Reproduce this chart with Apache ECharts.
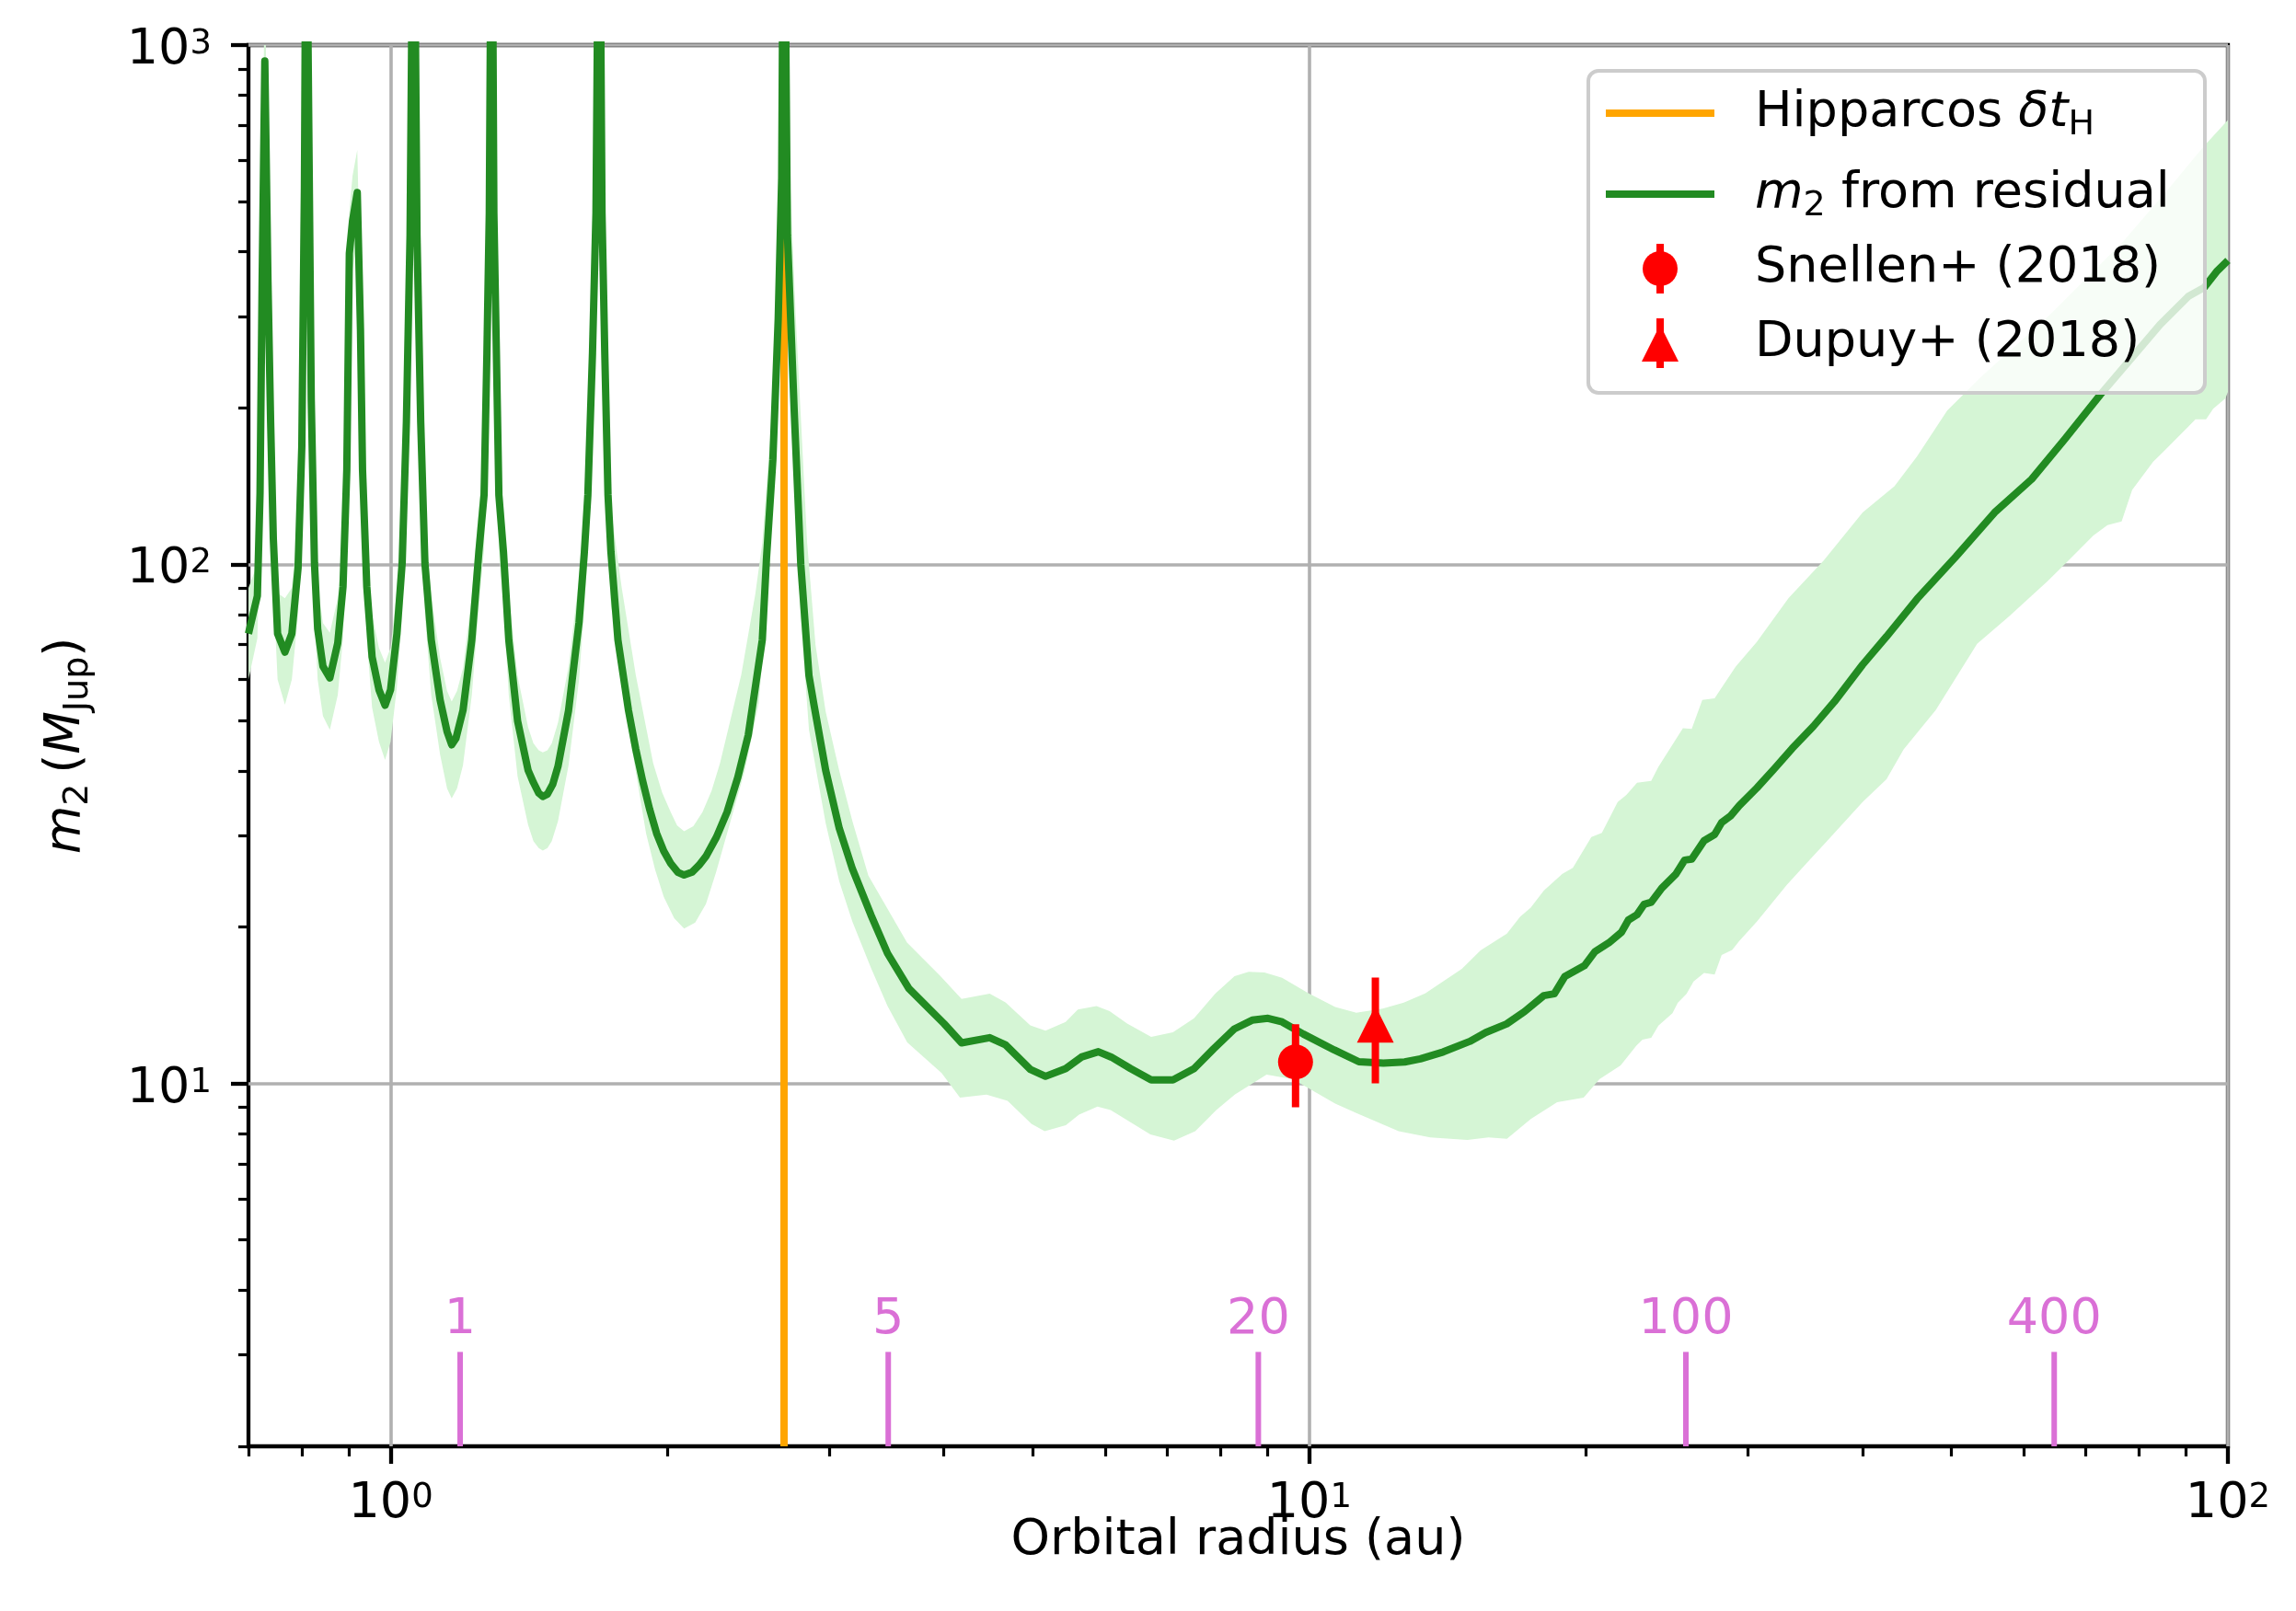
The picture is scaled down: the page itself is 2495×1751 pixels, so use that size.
<!DOCTYPE html>
<html>
<head>
<meta charset="utf-8">
<script src="https://cdn.jsdelivr.net/npm/echarts@6/dist/echarts.min.js"></script>
<style>html,body{margin:0;padding:0;background:#fff}#chart{width:2495px;height:1751px}</style>
</head>
<body>
<div id="chart"></div>
<script>
const FONT = 'DejaVu Sans';

// Companion mass (M_Jup) needed to explain the residual, against orbital radius (au)
const m2Curve = [[0.700,73.5],[0.7158,86.9],[0.7206,137],[0.7244,350],[0.7293,932],[0.7351,350],[0.7400,188],[0.7450,112],[0.7530,73.5],[0.7670,67.7],[0.7804,73.5],[0.7927,98.4],[0.8002,169],[0.8054,531],[0.8090,2500],[0.8193,208],[0.8259,100.5],[0.8326,75.1],[0.8437,63.6],[0.8584,60.4],[0.8756,70.5],[0.8872,90.5],[0.8957,152],[0.9014,397],[0.9087,459],[0.9195,520],[0.9269,284],[0.9317,152],[0.9417,90.5],[0.9543,66.3],[0.9709,57.3],[0.9858,53.5],[0.9995,57.3],[1.0156,73.5],[1.029,100.5],[1.040,188],[1.0496,431],[1.059,3000],[1.068,431],[1.078,188],[1.0894,100.5],[1.1069,71.5],[1.1316,54.8],[1.1516,47.6],[1.165,44.9],[1.1776,46.2],[1.1881,49.2],[1.1985,52.3],[1.2253,71.5],[1.2472,105.6],[1.2636,136],[1.2726,255],[1.2802,475],[1.2882,3000],[1.295,475],[1.3032,255],[1.3113,136],[1.3265,105.6],[1.3443,71.5],[1.3743,49.9],[1.411,40.1],[1.430,37.98],[1.449,36.25],[1.464,35.7],[1.481,36.08],[1.501,37.7],[1.5208,40.8],[1.5616,52.3],[1.6032,77.3],[1.6247,105.6],[1.639,136],[1.6581,255],[1.6727,475],[1.6866,3000],[1.6982,475],[1.710,255],[1.7239,136],[1.7366,105.6],[1.7673,71.5],[1.8147,52.3],[1.848,44.07],[1.880,38.3],[1.913,33.8],[1.9475,30.3],[1.9824,28.03],[2.0174,26.53],[2.0535,25.51],[2.0863,25.2],[2.1275,25.51],[2.1656,26.32],[2.2036,27.37],[2.2627,29.83],[2.3232,33.3],[2.387,38.88],[2.4502,46.9],[2.5379,71.5],[2.565,103],[2.6061,159],[2.6412,297],[2.6644,555],[2.6785,3000],[2.703,431],[2.749,198],[2.795,100],[2.853,61],[2.888,53.8],[2.975,40.1],[3.078,31],[3.181,25.9],[3.3327,21.1],[3.474,17.8],[3.6644,15.24],[4.0016,13.04],[4.1823,11.97],[4.4879,12.25],[4.6694,11.87],[4.9693,10.64],[5.1618,10.32],[5.4288,10.68],[5.6481,11.24],[5.8924,11.51],[6.0868,11.24],[6.3903,10.68],[6.7275,10.16],[7.1044,10.16],[7.4906,10.68],[7.864,11.65],[8.291,12.74],[8.6652,13.24],[9.0157,13.35],[9.3389,13.14],[9.8492,12.45],[10.644,11.6],[11.323,11.01],[12.04,10.94],[12.70,11.0],[13.21,11.15],[13.99,11.5],[14.95,12.05],[15.56,12.53],[16.40,13.02],[17.15,13.75],[18.00,14.76],[18.48,14.88],[18.98,16.08],[19.93,16.86],[20.46,17.94],[21.19,18.66],[21.86,19.54],[22.25,20.64],[22.74,21.14],[23.15,22.14],[23.56,22.34],[24.19,23.77],[25.06,25.29],[25.62,26.92],[26.08,27.04],[26.9,29.35],[27.62,30.17],[28.11,31.81],[28.73,32.72],[29.38,34.29],[30.70,37.07],[32.09,40.4],[33.54,44.16],[35.37,48.72],[37.29,54.35],[40.02,64.04],[42.49,72.54],[45.88,85.77],[50.56,103.4],[55.72,125.8],[61.14,145.8],[66.48,174.4],[72.63,212.1],[77.98,245.9],[84.39,289.7],[90.59,328.3],[94.26,341.4],[97.21,366.2],[100,384.7]];

// Lower edge of the uncertainty band
const bandLower = [[0.700,60],[0.7158,72],[0.7206,110],[0.7244,280],[0.7293,700],[0.7351,280],[0.7400,150],[0.7450,90],[0.7530,60],[0.7670,53.6],[0.7804,60],[0.7927,80],[0.8002,135],[0.8054,420],[0.8090,2000],[0.8193,165],[0.8259,80],[0.8326,60],[0.8437,51],[0.8584,48],[0.8756,56],[0.8872,72],[0.8957,122],[0.9014,320],[0.9087,370],[0.9195,420],[0.9269,225],[0.9317,120],[0.9417,72],[0.9543,53],[0.9709,45.5],[0.9858,42],[0.9995,45.5],[1.0156,58],[1.029,80],[1.040,150],[1.0496,345],[1.059,2000],[1.068,345],[1.078,150],[1.0894,80],[1.1069,56],[1.1316,43],[1.1516,37],[1.165,35.4],[1.1807,37],[1.1985,41],[1.2253,56],[1.2472,83],[1.2636,107],[1.2726,200],[1.2802,375],[1.2882,2000],[1.295,375],[1.3032,200],[1.3113,107],[1.3265,83],[1.3443,56],[1.3743,39],[1.411,31.5],[1.430,29.3],[1.449,28.4],[1.464,28.1],[1.481,28.4],[1.4972,29.3],[1.5208,32],[1.5616,41],[1.6032,60],[1.6247,83],[1.639,107],[1.6581,200],[1.6727,375],[1.6866,2000],[1.6982,375],[1.710,200],[1.7239,107],[1.7366,83],[1.752,77.3],[1.8147,48.4],[1.8967,30.3],[1.94,25.8],[1.9824,22.88],[2.035,20.8],[2.0863,19.87],[2.145,20.4],[2.2036,22.17],[2.26,25.5],[2.3232,30.3],[2.4286,40],[2.5156,54],[2.5605,80],[2.6061,135],[2.6412,250],[2.6644,470],[2.6785,2000],[2.70,340],[2.745,160],[2.795,79],[2.853,48],[2.888,42.5],[2.975,31.7],[3.078,24.5],[3.181,20.5],[3.3327,16.7],[3.474,14.1],[3.650,12.0],[3.978,10.47],[4.166,9.39],[4.452,9.52],[4.694,9.26],[4.983,8.36],[5.151,8.09],[5.431,8.31],[5.614,8.71],[5.880,9.02],[6.077,8.89],[6.714,7.98],[7.124,7.76],[7.513,8.09],[7.920,8.89],[8.294,9.52],[8.983,10.40],[9.598,10.19],[10.67,9.14],[11.25,8.77],[12.51,8.09],[13.54,7.87],[14.86,7.78],[15.67,7.87],[16.41,7.82],[17.42,8.54],[18.61,9.20],[19.89,9.39],[20.69,10.19],[21.82,10.83],[22.70,11.83],[23.05,12.14],[23.56,12.24],[23.99,12.92],[24.85,13.65],[25.18,14.3],[25.74,14.88],[26.20,15.72],[26.9,16.33],[27.62,16.20],[28.11,17.67],[28.86,18.08],[29.38,18.8],[30.70,20.49],[33.10,24.13],[34.74,26.51],[36.64,29.34],[40.02,34.83],[42.49,38.55],[44.36,44],[48.08,52.4],[53.33,70.26],[57.73,79.3],[63.62,92.7],[67.09,101.8],[71.38,113.6],[73.94,119.0],[76.61,120.9],[78.66,139.1],[82.93,157.6],[85.16,165.1],[90.59,184.2],[92.19,190.1],[94.67,190.1],[96.38,199.3],[99.38,208.7],[100,214.8]];

// Upper edge of the uncertainty band
const bandUpper = [[0.700,90],[0.7158,100],[0.7206,165],[0.7244,430],[0.7293,1500],[0.7351,430],[0.7400,230],[0.7450,135],[0.7530,88],[0.7670,86],[0.7804,90],[0.7927,120],[0.8002,205],[0.8054,650],[0.8090,3000],[0.8193,250],[0.8259,122],[0.8326,91],[0.8437,77],[0.8584,73.8],[0.8756,86],[0.8872,110],[0.8957,185],[0.9014,480],[0.9087,560],[0.9195,628],[0.9269,345],[0.9317,185],[0.9417,110],[0.9543,80],[0.9709,69],[0.9858,64.6],[0.9995,69],[1.0156,89],[1.029,122],[1.040,228],[1.0496,525],[1.059,4000],[1.068,525],[1.078,228],[1.0894,122],[1.1069,87],[1.1316,66],[1.1516,57],[1.165,54.4],[1.1807,57],[1.1985,63],[1.2253,87],[1.2472,128],[1.2636,165],[1.2726,310],[1.2802,575],[1.2882,4000],[1.295,575],[1.3032,310],[1.3113,165],[1.3265,128],[1.3443,87],[1.3743,61],[1.411,48.5],[1.430,45.2],[1.449,43.8],[1.464,43.4],[1.481,43.8],[1.4972,45.2],[1.5208,49.5],[1.5616,63.5],[1.6032,94],[1.6247,128],[1.639,165],[1.6581,310],[1.6727,575],[1.6866,4000],[1.6982,575],[1.710,310],[1.7239,165],[1.7366,128],[1.7838,90.3],[1.848,61.2],[1.9305,41.4],[1.975,36.3],[2.0174,33.3],[2.05,31.4],[2.0863,30.6],[2.135,31.3],[2.1844,33.3],[2.235,36.6],[2.2827,41.4],[2.4075,61.2],[2.4938,87.6],[2.5379,110],[2.5785,160],[2.6061,200],[2.6412,360],[2.6644,680],[2.6785,4000],[2.72,560],[2.76,300],[2.84,110],[2.90,70],[2.975,52],[3.078,40],[3.181,32],[3.311,25.12],[3.648,18.67],[3.967,16.09],[4.182,14.55],[4.488,14.89],[4.669,14.32],[4.969,12.94],[5.162,12.64],[5.429,13.14],[5.598,13.88],[5.865,14.1],[6.061,13.78],[6.334,13.04],[6.727,12.29],[7.104,12.54],[7.491,13.35],[7.899,14.89],[8.291,16.09],[8.590,16.4],[8.937,16.35],[9.339,15.97],[9.986,14.91],[10.67,14.03],[11.25,13.68],[12.02,13.93],[12.67,14.31],[13.37,14.91],[14.66,16.62],[15.36,18.04],[16.41,19.44],[16.96,20.94],[17.42,21.81],[18.0,23.51],[18.86,25.33],[19.36,26.03],[20.28,29.83],[20.82,30.37],[21.66,34.83],[22.14,35.94],[22.74,37.96],[23.56,38.25],[23.99,40.72],[25.51,48.34],[26.08,48.18],[26.78,54.77],[27.62,55.2],[28.11,57.84],[29.12,63.53],[30.70,70.87],[33.25,86.13],[36.32,101.8],[40.03,125.8],[43.35,141.3],[45.88,161.3],[49.48,197.7],[53.81,229.3],[64.02,302.4],[76.91,418.4],[85.88,525],[94.1,638],[100,716.8]];

// Orbital radius matching the Hipparcos time baseline
const hipparcosRadius = 2.68;

// Orbital periods (yr) marked along the bottom, and their radii (au)
const periodLabels = ['1', '5', '20', '100', '400'];
const periodRadius = [1.19, 3.48, 8.80, 25.7, 64.7];
const periodTickBase = 2;
const periodTickTop = 3.04;
const periodLabelY = 3.5;

// beta Pic b measurements: [radius, mass], [mass low, mass high]
const snellenPoint = [9.66, 11];
const snellenRange = [9, 13];
const dupuyPoint = [11.8, 13];
const dupuyRange = [10, 16];
const betaPicLabelAt = [10.13, 20.5];

// Axis ranges and tick values
const xRange = [0.7, 100];
const yRange = [2, 1000];
const xMajor = [1, 10, 100];
const xMinor = [0.7, 0.8, 0.9, 2, 3, 4, 5, 6, 7, 8, 9, 20, 30, 40, 50, 60, 70, 80, 90];
const yMajor = [10, 100, 1000];
const yMinor = [2, 3, 4, 5, 6, 7, 8, 9, 20, 30, 40, 50, 60, 70, 80, 90, 200, 300, 400, 500, 600, 700, 800, 900];

const GREEN = '#228B22', ORANGE = '#FFA500', RED = '#FF0000', ORCHID = '#DA70D6', GRIDC = '#b0b0b0';

function powLabel(v) {
  const e = Math.round(Math.log10(v));
  return '{b|10}{s|' + e + '}';
}
const powRich = {
  b: {fontSize: 54, fontFamily: FONT, lineHeight: 50, color: '#000'},
  s: {fontSize: 37, fontFamily: FONT, lineHeight: 36, verticalAlign: 'top', color: '#000'}
};

const textRich = {
  n: {fontSize: 54, fontFamily: FONT, lineHeight: 64, color: '#000', fill: '#000'},
  i: {fontSize: 54, fontFamily: FONT, fontStyle: 'italic', lineHeight: 64, color: '#000', fill: '#000'},
  s: {fontSize: 38, fontFamily: FONT, lineHeight: 38, verticalAlign: 'bottom', color: '#000', fill: '#000'}
};

const chart = echarts.init(document.getElementById('chart'), null, {renderer: 'canvas'});

function minorAxis(values, pos) {
  return {
    type: 'log', logBase: 10, gridIndex: 0, position: pos,
    min: pos === 'bottom' ? xRange[0] : yRange[0],
    max: pos === 'bottom' ? xRange[1] : yRange[1],
    axisLine: {show: false},
    axisTick: {show: true, customValues: values, length: 11, lineStyle: {color: '#000', width: 3.2}},
    axisLabel: {show: false},
    splitLine: {show: false}
  };
}

// legend drawn on top of the plot, semi-transparent like a framed key
const LZ = 100;
const legendText = (y, text) => ({
  type: 'text', x: 1907, y: y, z: LZ + 2,
  style: {text: text, rich: textRich, verticalAlign: 'middle', textVerticalAlign: 'middle', fill: '#000', font: '54px "DejaVu Sans"'}
});

const option = {
  animation: false,
  backgroundColor: '#fff',
  grid: {left: 270, top: 49, right: 74, bottom: 179, show: true, borderColor: '#000', borderWidth: 4.3, backgroundColor: 'transparent'},
  xAxis: [
    {
      type: 'log', logBase: 10, gridIndex: 0, position: 'bottom', min: xRange[0], max: xRange[1],
      axisLine: {show: false},
      axisTick: {show: true, customValues: xMajor, length: 19, lineStyle: {color: '#000', width: 4.3}},
      axisLabel: {customValues: xMajor, formatter: powLabel, margin: 38, rich: powRich},
      splitLine: {show: true, lineStyle: {color: GRIDC, width: 3.6}},
      name: 'Orbital radius (au)', nameLocation: 'middle', nameGap: 76, nameMoveOverlap: false,
      nameTextStyle: {fontSize: 54, fontFamily: FONT, color: '#000'}
    },
    minorAxis(xMinor, 'bottom')
  ],
  yAxis: [
    {
      type: 'log', logBase: 10, gridIndex: 0, position: 'left', min: yRange[0], max: yRange[1],
      axisLine: {show: false},
      axisTick: {show: true, customValues: yMajor, length: 19, lineStyle: {color: '#000', width: 4.3}},
      axisLabel: {customValues: yMajor, formatter: powLabel, margin: 40, rich: powRich, padding: [12, 0, 0, 0]},
      splitLine: {show: true, lineStyle: {color: GRIDC, width: 3.6}},
      name: '{i|m}{s|2}{n|\u2009(}{i|M}{s|Jup}{n|)}', nameLocation: 'middle', nameGap: 166, nameRotate: 90, nameMoveOverlap: false,
      nameTextStyle: {fontSize: 54, fontFamily: FONT, color: '#000', rich: textRich}
    },
    minorAxis(yMinor, 'left')
  ],
  series: [
    {
      // uncertainty band drawn as one polygon between the lower and upper edges
      type: 'custom', name: 'band', z: 1, clip: true, silent: true,
      xAxisIndex: 0, yAxisIndex: 0,
      data: [bandLower[0]],
      renderItem: function (params, api) {
        const pts = bandLower.map(p => api.coord(p))
          .concat(bandUpper.slice().reverse().map(p => api.coord(p)));
        const cs = params.coordSys;
        return {
          type: 'polygon', shape: {points: pts},
          style: {fill: '#d5f5d5', stroke: null},
          clipPath: {type: 'rect', shape: {x: cs.x, y: cs.y, width: cs.width, height: cs.height}}
        };
      }
    },
    {
      type: 'line', name: 'Hipparcos', z: 2, silent: true, showSymbol: false, symbol: 'none',
      data: [[hipparcosRadius, yRange[0]], [hipparcosRadius, yRange[1]]],
      lineStyle: {color: ORANGE, width: 8}
    },
    {
      type: 'line', name: 'm2', z: 3, silent: true, showSymbol: false, symbol: 'none', clip: true,
      data: m2Curve,
      lineStyle: {color: GREEN, width: 8, join: 'round'}
    },
    {
      // orbital period markers
      type: 'custom', name: 'periods', z: 4, silent: true,
      data: periodRadius.map(r => [r, periodTickTop]),
      renderItem: function (params, api) {
        const x = api.value(0);
        const p0 = api.coord([x, periodTickBase]);
        const p1 = api.coord([x, periodTickTop]);
        const pl = api.coord([x, periodLabelY]);
        return {
          type: 'group', children: [
            {type: 'line', shape: {x1: p0[0], y1: p0[1], x2: p1[0], y2: p1[1]}, style: {stroke: ORCHID, lineWidth: 6}},
            {type: 'text', style: {text: periodLabels[params.dataIndex], x: pl[0], y: pl[1],
              align: 'center', verticalAlign: 'middle', textAlign: 'center', textVerticalAlign: 'middle',
              fill: ORCHID, font: '54px "DejaVu Sans"'}}
          ]
        };
      }
    },
    {
      // error bars of the two measurements
      type: 'custom', name: 'errorbars', z: 5, silent: true,
      data: [[snellenPoint[0], snellenRange[0], snellenRange[1]], [dupuyPoint[0], dupuyRange[0], dupuyRange[1]]],
      encode: {x: 0, y: [1, 2]},
      renderItem: function (params, api) {
        const a = api.coord([api.value(0), api.value(1)]);
        const b = api.coord([api.value(0), api.value(2)]);
        return {type: 'line', shape: {x1: a[0], y1: a[1], x2: b[0], y2: b[1]}, style: {stroke: RED, lineWidth: 8}};
      }
    },
    {
      type: 'scatter', name: 'Snellen', z: 6, silent: true,
      data: [snellenPoint], symbol: 'circle', symbolSize: 38, itemStyle: {color: RED, opacity: 1}
    },
    {
      type: 'scatter', name: 'Dupuy', z: 6, silent: true,
      data: [dupuyPoint], symbol: 'triangle', symbolSize: [40, 40], itemStyle: {color: RED, opacity: 1}
    },
    {
      type: 'scatter', name: 'label', z: 7, silent: true,
      data: [betaPicLabelAt], symbolSize: 1, itemStyle: {opacity: 0},
      label: {
        show: true, position: 'inside', formatter: '{g|β}{n| Pic b}',
        rich: {
          g: {fontSize: 54, fontFamily: FONT, fontStyle: 'italic', color: RED},
          n: {fontSize: 54, fontFamily: FONT, color: RED}
        }
      }
    }
  ],
  graphic: {
    elements: [
      {type: 'rect', z: LZ, silent: true, shape: {x: 1726, y: 77, width: 670, height: 350, r: 11},
        style: {fill: 'rgba(255,255,255,0.8)', stroke: '#cccccc', lineWidth: 4}},
      {type: 'line', z: LZ + 1, silent: true, shape: {x1: 1745, y1: 123, x2: 1863, y2: 123}, style: {stroke: ORANGE, lineWidth: 8}},
      legendText(123, '{n|Hipparcos }{i|δt}{s|H}'),
      {type: 'line', z: LZ + 1, silent: true, shape: {x1: 1745, y1: 211, x2: 1863, y2: 211}, style: {stroke: GREEN, lineWidth: 8}},
      legendText(211, '{i|m}{s|2}{n| from residual}'),
      {type: 'line', z: LZ + 1, silent: true, shape: {x1: 1804, y1: 265, x2: 1804, y2: 319}, style: {stroke: RED, lineWidth: 8}},
      {type: 'circle', z: LZ + 1, silent: true, shape: {cx: 1804, cy: 292, r: 19}, style: {fill: RED}},
      legendText(292, '{n|Snellen+ (2018)}'),
      {type: 'line', z: LZ + 1, silent: true, shape: {x1: 1804, y1: 346, x2: 1804, y2: 400}, style: {stroke: RED, lineWidth: 8}},
      {type: 'polygon', z: LZ + 1, silent: true, shape: {points: [[1804, 353], [1784, 393], [1824, 393]]}, style: {fill: RED}},
      legendText(373, '{n|Dupuy+ (2018)}')
    ]
  }
};

chart.setOption(option);
</script>
</body>
</html>
